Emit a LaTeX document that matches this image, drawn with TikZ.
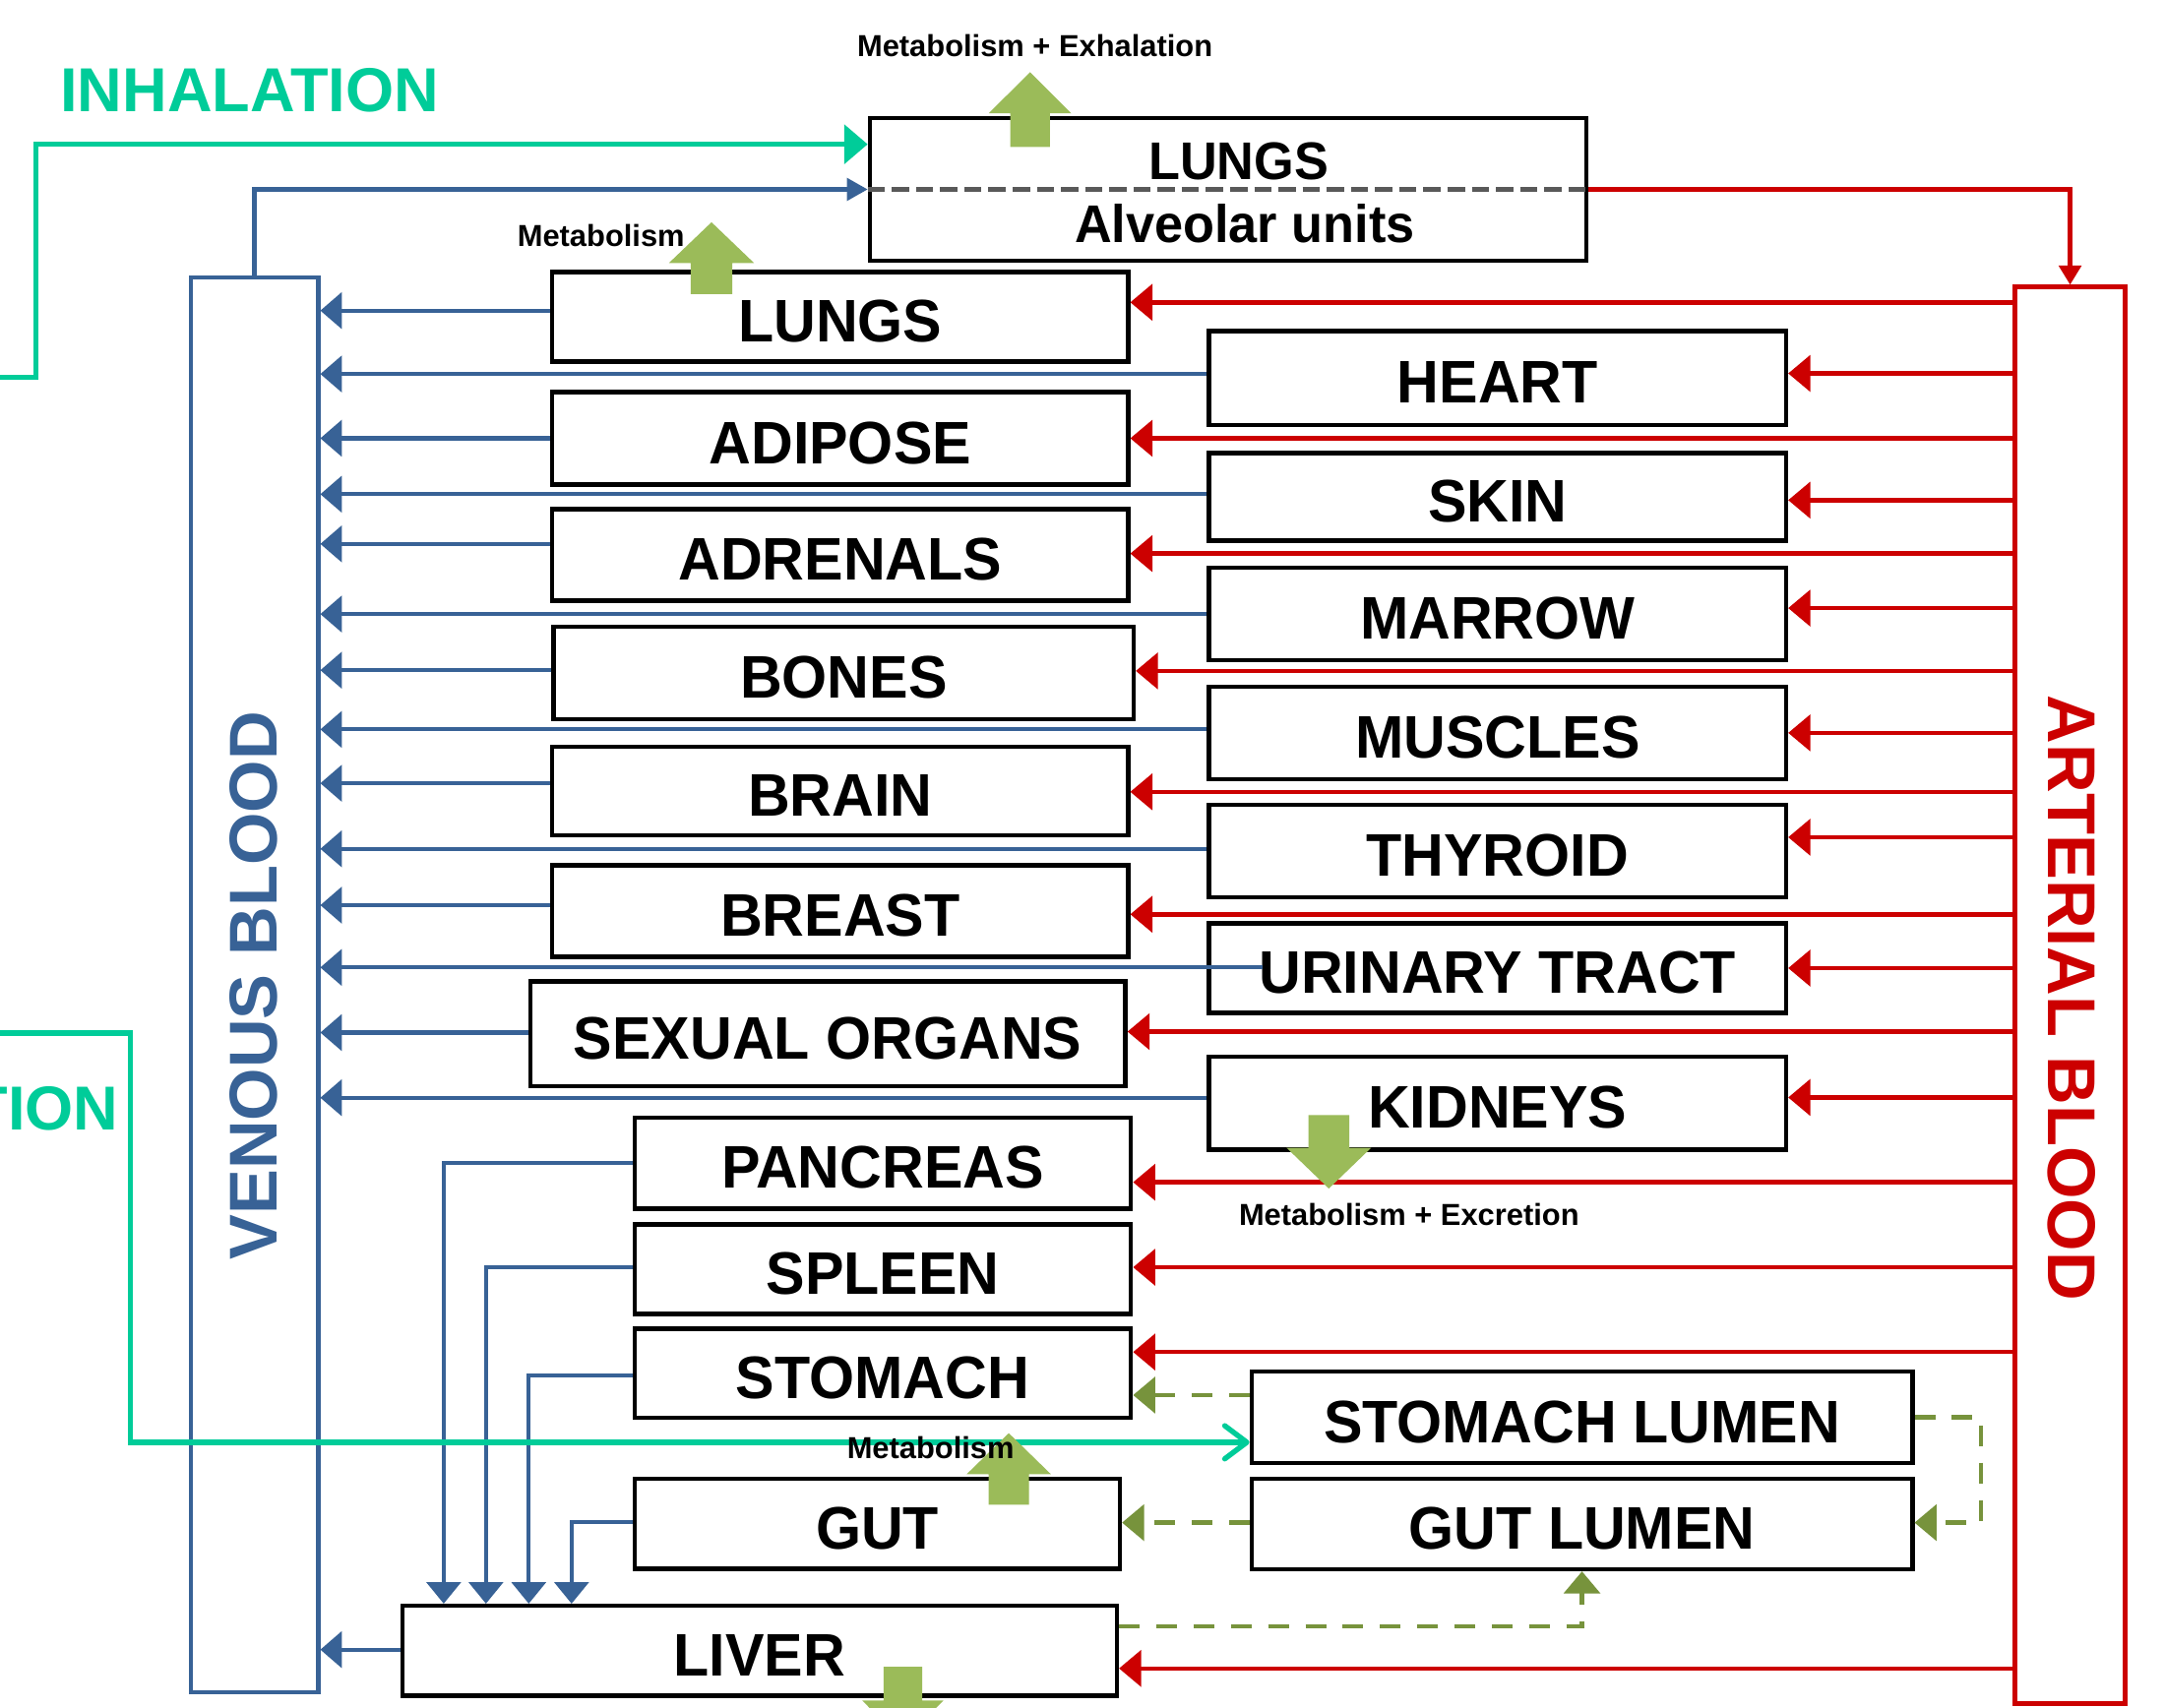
\documentclass[tikz,border=0pt]{standalone}
\usepackage{fontspec}
\setmainfont{Liberation Sans}
\newfontfamily\boxfont{Liberation Sans}[FakeStretch=0.97]
\usetikzlibrary{arrows.meta}
\definecolor{tealgreen}{RGB}{0,204,153}
\definecolor{venblue}{RGB}{56,98,150}
\definecolor{artred}{RGB}{204,0,0}
\definecolor{blkgreen}{RGB}{155,187,89}
\definecolor{olivegreen}{RGB}{119,147,60}
\definecolor{dashgray}{RGB}{89,89,89}
\newcommand{\greenblk}[6]{\fill[blkgreen] ({#1-#5},#2) -- ({#1-#5},#3) -- ({#1-#6},#3) -- (#1,#4) -- ({#1+#6},#3) -- ({#1+#5},#3) -- ({#1+#5},#2) -- cycle;}
\begin{document}
\begin{tikzpicture}[x=1pt,y=-1pt,
 organ/.style={draw=black,line width=3.2pt,fill=white,inner sep=0pt,text height=36.5pt,text depth=0pt,font=\boxfont\bfseries\fontsize{43.5}{50}\selectfont},
 venarr/.style={draw=venblue,line width=3pt,-{Triangle[length=15.5pt,width=26pt]}},
 artarr/.style={draw=artred,line width=3.2pt,-{Triangle[length=16pt,width=26pt]}},
 lumenarr/.style={draw=olivegreen,line width=3.2pt,dash pattern=on 15pt off 12pt,-{Triangle[length=16pt,width=26pt]}},
 inhale/.style={draw=tealgreen,line width=3.8pt,-{Triangle[length=17pt,width=28pt]}},
 ingest/.style={draw=tealgreen,line width=3.8pt,-{Straight Barb[length=16pt,width=24pt,round]}},
 smalllab/.style={inner sep=0pt,font=\bfseries\fontsize{22}{26}\selectfont},
 bigtext/.style={inner sep=0pt,font=\bfseries\fontsize{45}{50}\selectfont,text=tealgreen},
 bloodtext/.style={inner sep=0pt,font=\bfseries\fontsize{49}{55}\selectfont}]
\useasboundingbox (0,0) rectangle (1568,1237);
\clip (0,0) rectangle (1568,1237);
\fill[white] (0,0) rectangle (1568,1237);

% blood compartments
\node[draw=venblue,line width=3pt,inner sep=0pt,minimum width=92.5pt,minimum height=1024.8pt] (venous) at (184.25,713.2) {};
\node[bloodtext,rotate=90,text=venblue] (venousLabel) at (184,714) {VENOUS BLOOD};
\node[draw=artred,line width=3.4pt,inner sep=0pt,minimum width=79.5pt,minimum height=1026pt] (arterial) at (1499.25,721) {};
\node[bloodtext,rotate=-90,text=artred] (arterialLabel) at (1500.5,723) {ARTERIAL BLOOD};

% top lungs
\node[organ,minimum width=519pt,minimum height=103.4pt] (lungsTop) at (889.5,137.2) {};
\draw[dashgray,line width=3pt,dash pattern=on 12.5pt off 5pt] (lungsTop.west) -- (lungsTop.east);
\node[inner sep=0pt,font=\boxfont\bfseries\fontsize{38.4}{44}\selectfont] (lungsTopA) at (897,116.5) {LUNGS};
\node[inner sep=0pt,font=\boxfont\bfseries\fontsize{38.4}{44}\selectfont] (lungsTopB) at (901.5,162) {Alveolar units};

% left column
\node[organ,minimum width=417pt,minimum height=65pt] (lungsL) at (608.5,229.5) {LUNGS};
\node[organ,minimum width=417pt,minimum height=67pt] (adipose) at (608.5,317.5) {ADIPOSE};
\node[organ,minimum width=417pt,minimum height=66pt] (adrenals) at (608.5,402) {ADRENALS};
\node[organ,minimum width=420pt,minimum height=67pt] (bones) at (611,487.5) {BONES};
\node[organ,minimum width=417pt,minimum height=64pt] (brain) at (608.5,573) {BRAIN};
\node[organ,minimum width=417pt,minimum height=66pt] (breast) at (608.5,660) {BREAST};
\node[organ,minimum width=431pt,minimum height=76pt] (sexual) at (599.5,749) {SEXUAL ORGANS};
\node[organ,minimum width=359.5pt,minimum height=66pt] (pancreas) at (639.3,842.6) {PANCREAS};
\node[organ,minimum width=359.5pt,minimum height=64.7pt] (spleen) at (639.3,919.4) {SPLEEN};
\node[organ,minimum width=359.5pt,minimum height=64.3pt] (stomach) at (639.3,994.8) {STOMACH};
\node[organ,minimum width=351.3pt,minimum height=65.2pt] (gut) at (635.4,1103.9) {GUT};
\node[organ,minimum width=517.3pt,minimum height=65pt] (liver) at (550.2,1195.8) {LIVER};

% right column
\node[organ,minimum width=417.8pt,minimum height=67.8pt] (heart) at (1084.6,273.9) {HEART};
\node[organ,minimum width=417.8pt,minimum height=63.6pt] (skin) at (1084.6,360) {SKIN};
\node[organ,minimum width=417.8pt,minimum height=67pt] (marrow) at (1084.6,444.8) {MARROW};
\node[organ,minimum width=417.8pt,minimum height=67.2pt] (muscles) at (1084.6,530.9) {MUSCLES};
\node[organ,minimum width=417.8pt,minimum height=67pt] (thyroid) at (1084.6,616.5) {THYROID};
\node[organ,minimum width=417.8pt,minimum height=64.6pt] (urinary) at (1084.6,701.3) {URINARY TRACT};
\node[organ,minimum width=417.8pt,minimum height=67.5pt] (kidneys) at (1084.6,799.2) {KIDNEYS};
\node[organ,minimum width=478.5pt,minimum height=66.4pt] (stomachLumen) at (1145.75,1026.6) {STOMACH LUMEN};
\node[organ,minimum width=478.5pt,minimum height=65.4pt] (gutLumen) at (1145.75,1104) {GUT LUMEN};

% venous return
\foreach \n/\d in {lungsL/4.5,adipose/0,adrenals/8,bones/2,brain/5.6,breast/4.3,sexual/1,liver/0.8,heart/3,skin/2,marrow/0,muscles/2.5,thyroid/1.6,kidneys/4}
  \draw[venarr] ([yshift=\d pt]\n.west) -- ([yshift=\d pt]\n.west -| venous.east);
\draw[venarr] ([xshift=40pt,yshift=0.5pt]urinary.west) -- ([yshift=0.5pt]urinary.west -| venous.east);

% splanchnic to liver
\coordinate (lv1) at ([xshift=31.4pt]liver.north west);
\coordinate (lv2) at ([xshift=62pt]liver.north west);
\coordinate (lv3) at ([xshift=93pt]liver.north west);
\coordinate (lv4) at ([xshift=124pt]liver.north west);
\draw[venarr,-{Triangle[length=15.5pt,width=24.5pt]}] (pancreas.west) -| (lv1);
\draw[venarr,-{Triangle[length=15.5pt,width=24.5pt]}] ([yshift=1.2pt]spleen.west) -| (lv2);
\draw[venarr,-{Triangle[length=15.5pt,width=24.5pt]}] ([yshift=-1.4pt]stomach.west) -| (lv3);
\draw[venarr,-{Triangle[length=15.5pt,width=24.5pt]}] ([yshift=1.3pt]gut.west) -| (lv4);

% arterial supply
\foreach \n/\d in {lungsL/10.5,adipose/0,adrenals/1,bones/1.5,brain/-0.6,breast/-2.3,sexual/1.7,pancreas/-13.8,spleen/1.4,stomach/15.4,liver/-12.8,heart/3.4,skin/-2.3,marrow/4.3,muscles/0,thyroid/10,urinary/0,kidneys/4.2}
  \draw[artarr] ([yshift=\d pt]arterial.west |- \n.east) -- ([yshift=\d pt]\n.east);

% lung circulation
\draw[venarr,-{Triangle[length=15pt,width=16pt]}] (venous.north) |- (lungsTop.west);
\draw[artarr,-{Triangle[length=14pt,width=16pt]}] (lungsTop.east) -| (arterial.north);

% lumen transfers
\draw[lumenarr] ([yshift=16pt]stomachLumen.west) -- ([yshift=16pt]stomachLumen.west -| stomach.east);
\draw[lumenarr] ([yshift=1pt]gutLumen.west) -- ([yshift=1pt]gutLumen.west -| gut.east);
\draw[lumenarr] (stomachLumen.east) -- ++(48,0) |- ([yshift=1pt]gutLumen.east);
\draw[lumenarr] ([yshift=17.7pt]liver.east) -| (gutLumen.south);

% inhalation and ingestion
\coordinate (inhA) at (-5,273.2);
\coordinate (inhB) at (26,273.2);
\draw[inhale] (inhA) -- (inhB) |- ([yshift=32.7pt]lungsTop.west);
\coordinate (ingA) at (-5,748.4);
\coordinate (ingB) at (94.3,748.4);
\draw[ingest] (ingA) -- (ingB) |- ([yshift=-18.2pt]stomachLumen.west);

% elimination block arrows
\greenblk{746}{106.5}{82}{52.3}{14.3}{29.8}
\greenblk{515.3}{213}{190.5}{161}{15}{30.8}
\greenblk{730.6}{1090}{1067.9}{1038.2}{14.6}{30.5}
\greenblk{962.4}{807.8}{831.5}{861}{14.8}{30.6}
\greenblk{653.9}{1207.5}{1231.8}{1262}{14}{29.4}

% labels
\node[bigtext,anchor=west] (inhLabel) at (43.5,65.3) {INHALATION};
\node[bigtext,anchor=east] (ingLabel) at (86,803) {TION};
\node[smalllab] (metExh) at (749.5,33) {Metabolism + Exhalation};
\node[smalllab,anchor=east] (metLung) at (496,171) {Metabolism};
\node[smalllab] (metExc) at (1020.5,880) {Metabolism + Excretion};
\node[smalllab] (metGut) at (674,1049) {Metabolism};
\end{tikzpicture}
\end{document}
